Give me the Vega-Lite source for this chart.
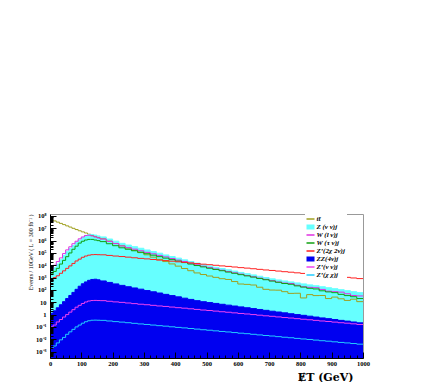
{
 "$schema": "https://vega.github.io/schema/vega-lite/v6.json",
 "width": 313, "height": 144,
 "autosize": {"type": "none"},
 "padding": {"left": 50, "top": 214, "right": 73, "bottom": 24},
 "background": "white",
 "config": {"view": {"stroke": "#999999", "strokeWidth": 1}, "font": "Liberation Serif"},
 "data": {"values": [
  {"x":0,"tt":4.79e7,"zvv":3160,"wl":5010,"wt":2000,"zp2":794,"zz":1.26,"zpvv":0.1,"zpxx":0.00178},
  {"x":10,"tt":3.98e7,"zvv":6310,"wl":10000,"wt":3160,"zp2":1000,"zz":2.0,"zpvv":0.141,"zpxx":0.00282},
  {"x":20,"tt":3.16e7,"zvv":12600,"wl":20000,"wt":5620,"zp2":1410,"zz":3.55,"zpvv":0.251,"zpxx":0.00501},
  {"x":30,"tt":2.51e7,"zvv":28200,"wl":39800,"wt":12600,"zp2":2240,"zz":6.31,"zpvv":0.398,"zpxx":0.00891},
  {"x":40,"tt":2.0e7,"zvv":63100,"wl":89100,"wt":25100,"zp2":3550,"zz":11.2,"zpvv":0.631,"zpxx":0.0141},
  {"x":50,"tt":1.58e7,"zvv":126000,"wl":178000,"wt":50100,"zp2":5620,"zz":20.0,"zpvv":1,"zpxx":0.0251},
  {"x":60,"tt":1.26e7,"zvv":224000,"wl":316000,"wt":100000,"zp2":8910,"zz":35.5,"zpvv":1.58,"zpxx":0.0398},
  {"x":70,"tt":1.0e7,"zvv":398000,"wl":562000,"wt":200000,"zp2":14100,"zz":63.1,"zpvv":2.51,"zpxx":0.0631},
  {"x":80,"tt":7.94e6,"zvv":708000,"wl":891000,"wt":355000,"zp2":22400,"zz":112,"zpvv":3.98,"zpxx":0.1},
  {"x":90,"tt":6.31e6,"zvv":1.12e6,"wl":1.41e6,"wt":631000,"zp2":31600,"zz":200,"zpvv":5.62,"zpxx":0.141},
  {"x":100,"tt":5.13e6,"zvv":1.78e6,"wl":2.0e6,"wt":891000,"zp2":44700,"zz":316,"zpvv":7.94,"zpxx":0.2},
  {"x":110,"tt":4.17e6,"zvv":2.51e6,"wl":2.63e6,"wt":1.12e6,"zp2":56200,"zz":447,"zpvv":10.5,"zpxx":0.263},
  {"x":120,"tt":3.31e6,"zvv":3.02e6,"wl":2.75e6,"wt":1.26e6,"zp2":66100,"zz":603,"zpvv":12.6,"zpxx":0.316},
  {"x":130,"tt":2.63e6,"zvv":3.16e6,"wl":2.40e6,"wt":1.26e6,"zp2":72400,"zz":708,"zpvv":13.8,"zpxx":0.347},
  {"x":140,"tt":2.09e6,"zvv":2.82e6,"wl":2.0e6,"wt":1.12e6,"zp2":74100,"zz":741,"zpvv":14.1,"zpxx":0.355},
  {"x":150,"tt":1.78e6,"zvv":2.40e6,"wl":1.66e6,"wt":1.0e6,"zp2":72400,"zz":661,"zpvv":13.8,"zpxx":0.347},
  {"x":160,"tt":1.41e6,"zvv":2.0e6,"wl":1.35e6,"wt":832000,"zp2":70800,"zz":537,"zpvv":13.5,"zpxx":0.339},
  {"x":180,"tt":912000,"zvv":1.35e6,"wl":871000,"wt":562000,"zp2":63100,"zz":407,"zpvv":12.0,"zpxx":0.302},
  {"x":200,"tt":589000,"zvv":912000,"wl":575000,"wt":389000,"zp2":56200,"zz":309,"zpvv":10.7,"zpxx":0.269},
  {"x":220,"tt":380000,"zvv":603000,"wl":372000,"wt":263000,"zp2":51300,"zz":234,"zpvv":9.77,"zpxx":0.245},
  {"x":240,"tt":251000,"zvv":437000,"wl":269000,"wt":200000,"zp2":45700,"zz":182,"zpvv":8.71,"zpxx":0.219},
  {"x":260,"tt":166000,"zvv":324000,"wl":204000,"wt":151000,"zp2":40700,"zz":145,"zpvv":7.76,"zpxx":0.195},
  {"x":280,"tt":107000,"zvv":240000,"wl":151000,"wt":115000,"zp2":36300,"zz":115,"zpvv":6.92,"zpxx":0.174},
  {"x":300,"tt":70800,"zvv":174000,"wl":112000,"wt":87100,"zp2":33100,"zz":89.1,"zpvv":6.31,"zpxx":0.158},
  {"x":320,"tt":45700,"zvv":129000,"wl":85100,"wt":66100,"zp2":29500,"zz":70.8,"zpvv":5.62,"zpxx":0.141},
  {"x":340,"tt":30200,"zvv":95500,"wl":63100,"wt":50100,"zp2":26300,"zz":56.2,"zpvv":5.01,"zpxx":0.126},
  {"x":360,"tt":20000,"zvv":69200,"wl":47900,"wt":38000,"zp2":24000,"zz":43.7,"zpvv":4.57,"zpxx":0.115},
  {"x":380,"tt":12900,"zvv":51300,"wl":35500,"wt":28800,"zp2":21400,"zz":34.7,"zpvv":4.07,"zpxx":0.102},
  {"x":400,"tt":8510,"zvv":38000,"wl":26300,"wt":21900,"zp2":19100,"zz":27.5,"zpvv":3.63,"zpxx":0.0912},
  {"x":420,"tt":5500,"zvv":27500,"wl":20000,"wt":16600,"zp2":17400,"zz":21.4,"zpvv":3.31,"zpxx":0.0832},
  {"x":440,"tt":3630,"zvv":20400,"wl":14800,"wt":12600,"zp2":15500,"zz":17.0,"zpvv":2.95,"zpxx":0.0741},
  {"x":460,"tt":2400,"zvv":15100,"wl":11000,"wt":9550,"zp2":13800,"zz":13.5,"zpvv":2.63,"zpxx":0.0661},
  {"x":480,"tt":1780,"zvv":11200,"wl":8320,"wt":7410,"zp2":12300,"zz":11.1,"zpvv":2.34,"zpxx":0.0589},
  {"x":500,"tt":1350,"zvv":8910,"wl":6460,"wt":5750,"zp2":11200,"zz":9.44,"zpvv":2.14,"zpxx":0.0537},
  {"x":520,"tt":1050,"zvv":6920,"wl":5010,"wt":4570,"zp2":10000,"zz":8.04,"zpvv":1.91,"zpxx":0.0479},
  {"x":540,"tt":813,"zvv":5500,"wl":3980,"wt":3630,"zp2":8910,"zz":6.84,"zpvv":1.70,"zpxx":0.0427},
  {"x":560,"tt":708,"zvv":4270,"wl":3090,"wt":2820,"zp2":8130,"zz":5.82,"zpvv":1.55,"zpxx":0.0389},
  {"x":580,"tt":479,"zvv":3390,"wl":2450,"wt":2240,"zp2":7240,"zz":4.95,"zpvv":1.38,"zpxx":0.0347},
  {"x":600,"tt":302,"zvv":2630,"wl":1910,"wt":1740,"zp2":6460,"zz":4.22,"zpvv":1.23,"zpxx":0.0309},
  {"x":620,"tt":282,"zvv":2090,"wl":1480,"wt":1380,"zp2":5890,"zz":3.59,"zpvv":1.12,"zpxx":0.0282},
  {"x":640,"tt":251,"zvv":1660,"wl":1170,"wt":1100,"zp2":5250,"zz":3.05,"zpvv":1.0,"zpxx":0.0251},
  {"x":660,"tt":166,"zvv":1290,"wl":912,"wt":851,"zp2":4680,"zz":2.60,"zpvv":0.891,"zpxx":0.0224},
  {"x":680,"tt":112,"zvv":1020,"wl":724,"wt":676,"zp2":4170,"zz":2.21,"zpvv":0.794,"zpxx":0.0200},
  {"x":700,"tt":97.7,"zvv":794,"wl":562,"wt":525,"zp2":3800,"zz":1.88,"zpvv":0.724,"zpxx":0.0182},
  {"x":720,"tt":95.5,"zvv":646,"wl":437,"wt":417,"zp2":3390,"zz":1.62,"zpvv":0.646,"zpxx":0.0162},
  {"x":740,"tt":72.4,"zvv":537,"wl":363,"wt":331,"zp2":3020,"zz":1.38,"zpvv":0.575,"zpxx":0.0145},
  {"x":760,"tt":52.5,"zvv":447,"wl":331,"wt":288,"zp2":2750,"zz":1.17,"zpvv":0.525,"zpxx":0.0132},
  {"x":780,"tt":53.7,"zvv":372,"wl":240,"wt":214,"zp2":2450,"zz":1.0,"zpvv":0.468,"zpxx":0.0117},
  {"x":800,"tt":22.4,"zvv":309,"wl":182,"wt":170,"zp2":2190,"zz":0.871,"zpvv":0.417,"zpxx":0.0105},
  {"x":820,"tt":41.7,"zvv":257,"wl":162,"wt":135,"zp2":2000,"zz":0.741,"zpvv":0.380,"zpxx":0.00955},
  {"x":840,"tt":34.7,"zvv":219,"wl":151,"wt":120,"zp2":1780,"zz":0.631,"zpvv":0.339,"zpxx":0.00851},
  {"x":860,"tt":35.5,"zvv":182,"wl":110,"wt":85.1,"zp2":1580,"zz":0.537,"zpvv":0.302,"zpxx":0.00759},
  {"x":880,"tt":20.0,"zvv":151,"wl":79.4,"wt":69.2,"zp2":1450,"zz":0.468,"zpvv":0.275,"zpxx":0.00692},
  {"x":900,"tt":26.3,"zvv":126,"wl":72.4,"wt":60.3,"zp2":1290,"zz":0.398,"zpvv":0.245,"zpxx":0.00617},
  {"x":920,"tt":19.1,"zvv":105,"wl":66.1,"wt":43.7,"zp2":1150,"zz":0.339,"zpvv":0.219,"zpxx":0.00550},
  {"x":940,"tt":14.1,"zvv":87.1,"wl":49.0,"wt":34.7,"zp2":1050,"zz":0.295,"zpvv":0.200,"zpxx":0.00501},
  {"x":960,"tt":17.8,"zvv":72.4,"wl":35.5,"wt":28.2,"zp2":933,"zz":0.251,"zpvv":0.178,"zpxx":0.00447},
  {"x":980,"tt":11.2,"zvv":60.3,"wl":32.4,"wt":20.0,"zp2":832,"zz":0.214,"zpvv":0.158,"zpxx":0.00398},
  {"x":1000,"tt":11.2,"zvv":60.3,"wl":32.4,"wt":20.0,"zp2":832,"zz":0.214,"zpvv":0.158,"zpxx":0.00398}
 ]},
 "transform": [{"fold": ["tt","zvv","wl","wt","zp2","zz","zpvv","zpxx"], "as": ["key","v"]}],
 "encoding": {
  "x": {"field": "x", "type": "quantitative",
   "scale": {"domain": [0, 1000], "nice": false, "zero": false},
   "axis": {
    "values": [0,20,40,60,80,100,120,140,160,180,200,220,240,260,280,300,320,340,360,380,400,420,440,460,480,500,520,540,560,580,600,620,640,660,680,700,720,740,760,780,800,820,840,860,880,900,920,940,960,980,1000],
    "format": "d",
    "labelExpr": "datum.value % 100 == 0 ? datum.label : ''",
    "tickSize": {"condition": {"test": "datum.value % 100 == 0", "value": -6}, "value": -3},
    "grid": false, "domainColor": "black", "tickColor": "black", "zindex": 1,
    "labelFont": "Liberation Serif", "labelFontWeight": "bold", "labelFontSize": 6.5, "labelColor": "black",
    "labelPadding": 8, "labelOverlap": false, "labelFlush": false,
    "title": "ɆT (GeV)", "titleFont": "DejaVu Serif", "titleFontSize": 11, "titleFontWeight": "bold", "titleColor": "black",
    "titleX": 303, "titleY": 22, "titleAlign": "right", "titleBaseline": "alphabetic"
   }},
  "y": {"field": "v", "type": "quantitative",
   "scale": {"type": "log", "domain": [0.0003, 1.45e8], "nice": false},
   "axis": {
    "values": [4e-4,5e-4,6e-4,7e-4,8e-4,9e-4,1e-3,2e-3,3e-3,4e-3,5e-3,6e-3,7e-3,8e-3,9e-3,0.01,0.02,0.03,0.04,0.05,0.06,0.07,0.08,0.09,0.1,0.2,0.3,0.4,0.5,0.6,0.7,0.8,0.9,1,2,3,4,5,6,7,8,9,10,20,30,40,50,60,70,80,90,100,200,300,400,500,600,700,800,900,1e3,2e3,3e3,4e3,5e3,6e3,7e3,8e3,9e3,1e4,2e4,3e4,4e4,5e4,6e4,7e4,8e4,9e4,1e5,2e5,3e5,4e5,5e5,6e5,7e5,8e5,9e5,1e6,2e6,3e6,4e6,5e6,6e6,7e6,8e6,9e6,1e7,2e7,3e7,4e7,5e7,6e7,7e7,8e7,9e7,1e8],
    "labelExpr": "abs(log(datum.value)/LN10 - round(log(datum.value)/LN10)) > 0.001 ? '' : datum.value == 1 ? '1' : datum.value == 10 ? '10' : '10' + (datum.value < 1 ? '⁻' : '') + substring('⁰¹²³⁴⁵⁶⁷⁸⁹', abs(round(log(datum.value)/LN10)), abs(round(log(datum.value)/LN10)) + 1)",
    "tickSize": {"condition": {"test": "abs(log(datum.value)/LN10 - round(log(datum.value)/LN10)) < 0.001", "value": -6}, "value": -3},
    "grid": false, "domainColor": "black", "tickColor": "black", "zindex": 1,
    "labelFont": "Liberation Serif", "labelFontWeight": "bold", "labelFontSize": 6.5, "labelColor": "black",
    "labelPadding": 10, "labelOverlap": false, "labelFlush": false,
    "title": "Events / 10GeV ( L = 300 fb⁻¹ )", "titleFont": "Liberation Serif", "titleFontSize": 6, "titleFontWeight": "normal", "titleColor": "black",
    "titleAngle": 270, "titleX": -20, "titleY": 0, "titleAlign": "right", "titleBaseline": "middle"
   }}
 },
 "layer": [
  {"transform": [{"filter": "datum.key == 'zvv'"}],
   "mark": {"type": "area", "interpolate": "step-after", "clip": true, "color": "#66ffff"},
   "encoding": {"y2": {"datum": 1e-5}}},
  {"transform": [{"filter": "datum.key == 'zz'"}],
   "mark": {"type": "area", "interpolate": "step-after", "clip": true, "color": "#0000f0"},
   "encoding": {"y2": {"datum": 1e-5}}},
  {"mark": {"type": "line", "interpolate": "step-after", "clip": true, "strokeWidth": 1},
   "encoding": {
    "color": {"field": "key", "type": "nominal",
     "scale": {"domain": ["tt","zvv","wl","wt","zp2","zz","zpvv","zpxx"],
               "range": ["#a0a020","#66ffff","#e030e0","#10a010","#ff2020","#0000f0","#f040f0","#22ccff"]},
     "legend": {
      "orient": "none", "legendX": 255, "legendY": 0, "title": null,
      "fillColor": "white", "padding": 1.5,
      "symbolType": "stroke", "symbolSize": 81, "symbolStrokeWidth": 1.5,
      "labelFont": "Liberation Serif", "labelFontSize": 7, "labelFontWeight": "bold", "labelFontStyle": "italic", "labelColor": "black",
      "rowPadding": 0, "labelOffset": 3, "clipHeight": 7, "gridAlign": "all",
      "labelExpr": "datum.value=='tt' ? 'tt̄' : datum.value=='zvv' ? 'Z (ν ν)j' : datum.value=='wl' ? 'W (l ν)j' : datum.value=='wt' ? 'W (τ ν)j' : datum.value=='zp2' ? 'Z\u2019(2χ 2ν)j' : datum.value=='zz' ? 'ZZ(4ν)j' : datum.value=='zpvv' ? 'Z\u2019(ν ν)j' : 'Z\u2019(χ χ)j'",
      "encode": {"symbols": {"update": {
        "strokeWidth": {"signal": "datum.value=='zvv' || datum.value=='zz' ? 5 : 1.5"}
      }}}
     }}
   }}
 ]
}
